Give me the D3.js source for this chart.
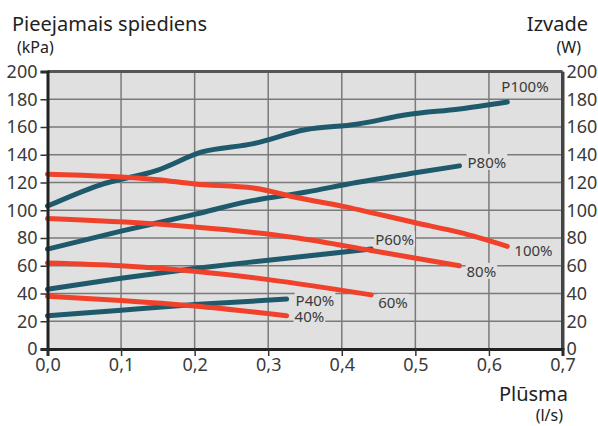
<!DOCTYPE html>
<html>
<head>
<meta charset="utf-8">
<script src="https://cdn.jsdelivr.net/npm/d3@7"></script>
<style>
  body { margin: 0; background: #fff; }
  svg { font-family: "Noto Sans", sans-serif; }
</style>
</head>
<body>
<div id="chart"></div>
<script>
// flow (l/s) vs pressure (kPa) / power (W)
const p100 = [[0, 103], [0.07, 118], [0.15, 129], [0.21, 142], [0.28, 148], [0.35, 158], [0.42, 162], [0.49, 169], [0.56, 173], [0.625, 178]];
const p80 = [[0, 72], [0.1, 85], [0.2, 97], [0.27, 106], [0.35, 113], [0.42, 120], [0.5, 127], [0.56, 132]];
const p60 = [[0, 43], [0.1, 51], [0.2, 58], [0.3, 64], [0.44, 72]];
const p40 = [[0, 24], [0.1, 28], [0.2, 32], [0.325, 36]];
const c100 = [[0, 126], [0.15, 122], [0.2, 119], [0.28, 116], [0.34, 109], [0.4, 103], [0.5, 91], [0.56, 84], [0.625, 74]];
const c80 = [[0, 94], [0.15, 90], [0.2, 88], [0.28, 84], [0.34, 80], [0.44, 71], [0.56, 60]];
const c60 = [[0, 62], [0.1, 60], [0.2, 56], [0.3, 50], [0.44, 39]];
const c40 = [[0, 38], [0.1, 35], [0.2, 31], [0.325, 24]];

const xTicks = [0, 0.1, 0.2, 0.3, 0.4, 0.5, 0.6, 0.7];
const yTicks = [0, 20, 40, 60, 80, 100, 120, 140, 160, 180, 200];

const series = [
  {name: 'P100%', data: p100, kind: 'p', dx: -6, dy: -10},
  {name: 'P80%', data: p80, kind: 'p', dx: 8, dy: 2},
  {name: 'P60%', data: p60, kind: 'p', dx: 4, dy: -4},
  {name: 'P40%', data: p40, kind: 'p', dx: 9, dy: 7},
  {name: '100%', data: c100, kind: 'c', dx: 7, dy: 10},
  {name: '80%', data: c80, kind: 'c', dx: 7, dy: 11},
  {name: '60%', data: c60, kind: 'c', dx: 7, dy: 13},
  {name: '40%', data: c40, kind: 'c', dx: 8, dy: 6}
];
const colors = {p: '#1f5a6c', c: '#f0412b'};

const W = 598, H = 426;
const margin = {top: 71.5, right: 35.5, bottom: 77, left: 47.5};
const width = W - margin.left - margin.right;
const height = H - margin.top - margin.bottom;

const xScale = d3.scaleLinear().domain([0, 0.7]).range([0, width]);
const yScale = d3.scaleLinear().domain([0, 200]).range([height, 0]);
const fmt = d3.format('.1f');
const comma = v => fmt(v).replace('.', ',');

const svg = d3.select('#chart').append('svg')
  .attr('width', W).attr('height', H);

const g = svg.append('g')
  .attr('transform', `translate(${margin.left}, ${margin.top})`);

g.append('rect')
  .attr('width', width).attr('height', height)
  .attr('fill', '#e0e0e0');

// grid
g.append('g').selectAll('line')
  .data(xTicks.slice(1, -1))
  .join('line')
    .attr('x1', d => xScale(d)).attr('x2', d => xScale(d))
    .attr('y1', 0).attr('y2', height)
    .attr('stroke', '#7a7a7a').attr('stroke-width', 1.5);
g.append('g').selectAll('line')
  .data(yTicks.slice(1, -1))
  .join('line')
    .attr('x1', 0).attr('x2', width)
    .attr('y1', d => yScale(d)).attr('y2', d => yScale(d))
    .attr('stroke', '#7a7a7a').attr('stroke-width', 1.5);

const ends = series.map(s => {
  const last = s.data[s.data.length - 1];
  return {s, x: xScale(last[0]) + s.dx, y: yScale(last[1]) + s.dy};
});

// label backgrounds hide the grid under the text
const labelBg = g.append('g');
const line = d3.line().x(d => xScale(d[0])).y(d => yScale(d[1])).curve(d3.curveMonotoneX);

g.append('g').selectAll('path')
  .data(series)
  .join('path')
    .attr('d', d => line(d.data))
    .attr('fill', 'none')
    .attr('stroke', d => colors[d.kind])
    .attr('stroke-width', 5)
    .attr('stroke-linecap', 'round')
    .attr('stroke-linejoin', 'round');

const labels = g.append('g').selectAll('text')
  .data(ends)
  .join('text')
    .attr('x', d => d.x).attr('y', d => d.y)
    .attr('font-size', 15)
    .attr('fill', '#3a3a3a')
    .text(d => d.s.name);

labels.each(function() {
  const b = this.getBBox();
  labelBg.append('rect')
    .attr('x', b.x - 1).attr('y', b.y + 2)
    .attr('width', b.width + 2).attr('height', b.height - 4)
    .attr('fill', '#e0e0e0');
});

// frame
g.append('line').attr('x1', 0).attr('x2', width).attr('y1', 0).attr('y2', 0)
  .attr('stroke', '#555').attr('stroke-width', 3);
g.append('line').attr('x1', width).attr('x2', width).attr('y1', 0).attr('y2', height)
  .attr('stroke', '#444').attr('stroke-width', 3);

const yAxis = g.append('g')
  .call(d3.axisLeft(yScale).tickValues(yTicks).tickSize(7).tickPadding(3));
const yAxisR = g.append('g')
  .attr('transform', `translate(${width}, 0)`)
  .call(d3.axisRight(yScale).tickValues(yTicks).tickSize(0).tickPadding(4));
const xAxis = g.append('g')
  .attr('transform', `translate(0, ${height})`)
  .call(d3.axisBottom(xScale).tickValues(xTicks).tickSize(7).tickPadding(2).tickFormat(comma));

[yAxis, yAxisR, xAxis].forEach(a => {
  a.select('.domain').attr('stroke', '#222').attr('stroke-width', 3);
  a.selectAll('.tick line').attr('stroke', '#333').attr('stroke-width', 1.5);
  a.selectAll('text').attr('font-size', 18).attr('fill', '#3a3a3a')
    .attr('font-family', '"Noto Sans", sans-serif');
});
yAxisR.select('.domain').attr('stroke', '#444');

// titles
const title = (t, x, y, size, anchor) => svg.append('text')
  .attr('x', x).attr('y', y).attr('font-size', size)
  .attr('text-anchor', anchor).attr('fill', '#222').text(t);
title('Pieejamais spiediens', 12, 31, 20, 'start');
title('(kPa)', 17, 53, 16, 'start');
title('Izvade', 588, 31, 20, 'end');
title('(W)', 581, 53, 16, 'end');
title('Plūsma', 568, 401, 20, 'end');
title('(l/s)', 563, 421, 16, 'end');
</script>
</body>
</html>
